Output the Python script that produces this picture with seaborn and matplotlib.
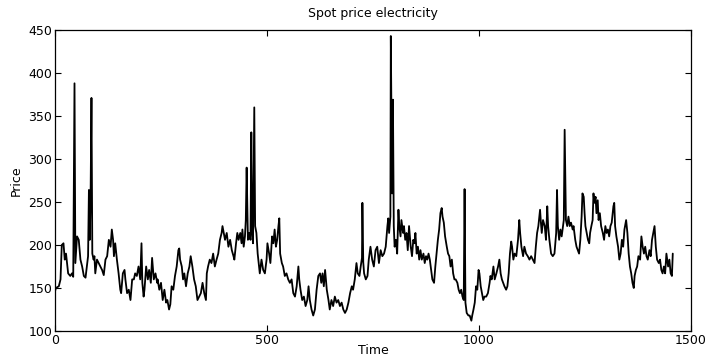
import matplotlib
matplotlib.use("Agg")
import matplotlib.pyplot as plt
import seaborn as sns
import pandas as pd

# ---- data (time index, spot price) ----
day = [0, 2, 9, 13, 16, 20, 23, 26, 31, 36, 40, 43, 46, 48, 52, 56, 60, 64, 68, 72,
       75, 78, 80, 82, 84, 86, 88, 91, 93, 95, 99, 103, 107, 111, 115, 119, 123, 127,
       131, 134, 137, 139, 142, 146, 150, 154, 156, 160, 164, 166, 170, 174, 178, 182,
       186, 189, 193, 197, 201, 204, 206, 209, 211, 215, 219, 222, 226, 229, 233, 237,
       241,
       242, 246, 250, 254, 258, 262, 265, 269, 272, 275, 279, 283, 287, 291, 293, 295,
       299, 302, 305, 309, 313, 317, 320, 324, 328, 332, 336, 340, 344, 348, 352, 356,
       358, 361, 365, 369, 373, 377, 381, 385, 389, 393, 395, 398, 401, 405, 409, 413,
       417, 421, 423, 427, 430, 433, 437, 440, 442, 445, 448, 450, 452, 455, 458, 461,
       463, 465, 467, 470, 472, 475, 478, 483,
       487, 491, 495, 499, 501, 505, 508, 512, 515, 518, 521, 524, 527, 529, 531, 535,
       538, 542, 546, 550, 554, 558, 562, 566, 570, 574, 576, 579, 583, 587, 591, 595,
       598, 601, 605, 609, 613, 617, 621, 625, 628, 631, 634, 637, 641, 645, 648, 652,
       656, 660, 664, 668, 672, 676, 680, 684, 688, 692, 696, 700, 703, 707, 711, 714,
       718, 721, 724, 725, 727, 729,
       733, 737, 740, 744, 748, 752, 756, 760, 764, 768, 772, 776, 780, 784, 786, 788,
       791, 792, 795, 797, 799, 801, 804, 807, 810, 812, 815, 817, 821, 823, 826, 829,
       832, 835, 839, 842, 845, 848, 850, 853, 856, 859, 862, 865, 869, 872, 875, 878,
       881, 884, 887, 890, 894, 897, 900, 903, 906, 909, 912, 914, 917, 920, 924, 927,
       930, 933, 936, 939, 942, 945, 949, 952, 955, 958, 961, 964, 966, 968, 971, 975,
       978, 982, 984, 987, 990, 993, 996, 999, 1001, 1004, 1007, 1010, 1013, 1017, 1021,
       1025, 1027, 1030, 1034, 1037, 1041, 1045, 1048, 1051, 1054, 1057, 1060, 1064,
       1067, 1070, 1073, 1076, 1078, 1081, 1084, 1088, 1092, 1095, 1097, 1100, 1104,
       1107, 1111, 1115, 1119, 1123, 1127, 1131, 1134, 1137, 1140, 1144, 1146, 1148,
       1151, 1155, 1158, 1161, 1163, 1166, 1170, 1174, 1178, 1182, 1184, 1186, 1189,
       1192, 1195, 1198, 1200, 1202, 1205, 1208, 1211, 1214, 1217, 1221,
       1223, 1227, 1230, 1233, 1236, 1239, 1242, 1244, 1247, 1249, 1251, 1254, 1257,
       1260, 1262, 1265, 1268, 1270, 1272, 1275, 1277, 1280, 1282, 1285, 1288, 1292,
       1295, 1298, 1301, 1304, 1307, 1310, 1313, 1317, 1319, 1321, 1324, 1328, 1331,
       1334, 1337, 1340, 1343, 1347, 1350, 1353, 1356, 1359, 1362, 1365, 1367, 1370,
       1373, 1376, 1380, 1383, 1386, 1389, 1392, 1395, 1398, 1402, 1405, 1408, 1411,
       1414, 1417, 1420, 1424, 1427, 1430, 1433, 1436, 1439, 1442, 1446, 1449, 1452,
       1455, 1457]

price = [146, 150, 152, 160, 200, 202, 183, 190, 167, 164, 167, 163, 388, 179, 210, 206, 183, 175, 164, 162,
         175, 187, 264, 206, 260, 371, 190, 183, 187, 167, 183, 179, 175, 171, 165, 183, 187, 206,
         198, 218, 206, 187, 202, 183, 167, 148, 144, 167, 171, 160, 144, 148, 136, 160,
         160, 167, 164, 175, 160, 202, 156, 140, 148, 175, 160, 171, 156, 185, 160, 167,
         156,
         160, 148, 156, 136, 148, 133, 136, 125, 131, 152, 148, 164, 175, 194, 196, 183,
         175, 160, 167, 152, 167, 175, 187, 175, 160, 152, 136, 140, 144, 156, 144, 136,
         167, 175, 183, 179, 190, 175, 183, 190, 206, 214, 222, 214, 206, 214, 198, 206,
         194, 187, 183, 202, 214, 206, 214, 202, 218, 198, 210, 229, 290, 206, 214, 206,
         331, 214, 202, 360, 222, 214, 190, 167,
         183, 171, 167, 183, 202, 190, 179, 210, 202, 218, 198, 206, 222, 231, 190, 179,
         175, 164, 167, 160, 156, 160, 144, 140, 152, 175, 160, 148, 136, 140, 129, 136,
         152, 136, 125, 118, 125, 148, 164, 167, 156, 167, 152, 171, 148, 136, 125, 136,
         129, 140, 133, 136, 129, 133, 125, 121, 125, 133, 144, 152, 148, 160, 179, 167,
         164, 175, 185, 249, 180, 167,
         160, 164, 183, 198, 183, 175, 194, 198, 179, 194, 187, 190, 198, 222, 231, 214,
         233, 443, 260, 369, 222, 198, 206, 190, 241, 222, 210, 229, 214, 222, 206, 214,
         194, 222, 198, 187, 206, 202, 214, 190, 198, 183, 194, 183, 190, 179, 187, 183,
         190, 183, 171, 160, 156, 175, 190, 206, 218, 237, 243, 233, 226, 210, 198, 190,
         187, 175, 183, 167, 160, 160, 156, 148, 144, 148, 140, 136, 265, 133, 121, 118,
         118, 112, 118, 125, 133, 152, 148, 171, 167, 152, 144, 136, 140, 140, 144,
         156, 164, 160, 175, 160, 167, 175, 183, 167, 160, 156, 152, 148,
         152, 167, 190, 204, 198, 183, 190, 187, 206, 229, 214, 198, 187,
         198, 190, 187, 183, 187, 183, 179, 198, 214, 222, 241, 226, 214,
         229, 222, 206, 245, 222, 206, 190, 187, 190, 214, 264, 222, 206,
         218, 210, 222, 229, 334, 229, 222, 233, 222, 226, 218,
         222, 206, 198, 194, 190, 206, 233, 260, 256, 237, 222, 214, 206,
         202, 214, 222, 229, 260, 249, 256, 237, 252, 229, 237, 222, 214,
         206, 222, 214, 218, 210, 222, 226, 245, 249, 222, 210, 198, 183,
         190, 206, 198, 218, 229, 214, 190, 175, 167, 156, 150, 164, 171,
         175, 187, 183, 210, 198, 190, 198, 187, 183, 194, 187, 206, 214,
         222, 198, 183, 179, 183, 171, 167, 175, 167, 190, 175, 183, 167,
         164, 190]

title = "Spot price electricity"
x_label = "Time"
y_label = "Price"
x_ticks = [0, 500, 1000, 1500]
y_ticks = [100, 150, 200, 250, 300, 350, 400, 450]

df = pd.DataFrame({"Time": day, "Price": price})

sns.set_theme(style="white")
plt.rcParams["font.family"] = ["DejaVu Sans"]

fig = plt.figure(figsize=(7.08, 3.61), dpi=100)
ax = fig.add_axes([55 / 708, 30 / 361, 636 / 708, 301 / 361])

sns.lineplot(data=df, x="Time", y="Price", ax=ax, color="black",
             linewidth=1.3, estimator=None, sort=False)

ax.set_xlim(0, 1500)
ax.set_ylim(100, 450)
ax.set_xticks(x_ticks)
ax.set_yticks(y_ticks)
ax.tick_params(direction="in", length=4, width=0.8, colors="black",
               labelsize=9, pad=2, top=True, right=True,
               bottom=True, left=True)
for s in ax.spines.values():
    s.set_color("black")
    s.set_linewidth(0.9)
    s.set_visible(True)

ax.set_title(title, fontsize=9, pad=9, color="black")
ax.set_xlabel(x_label, fontsize=9, labelpad=-2, color="black")
ax.set_ylabel(y_label, fontsize=9, labelpad=4, color="black")

fig.savefig("out.png", dpi=100, facecolor="white")
